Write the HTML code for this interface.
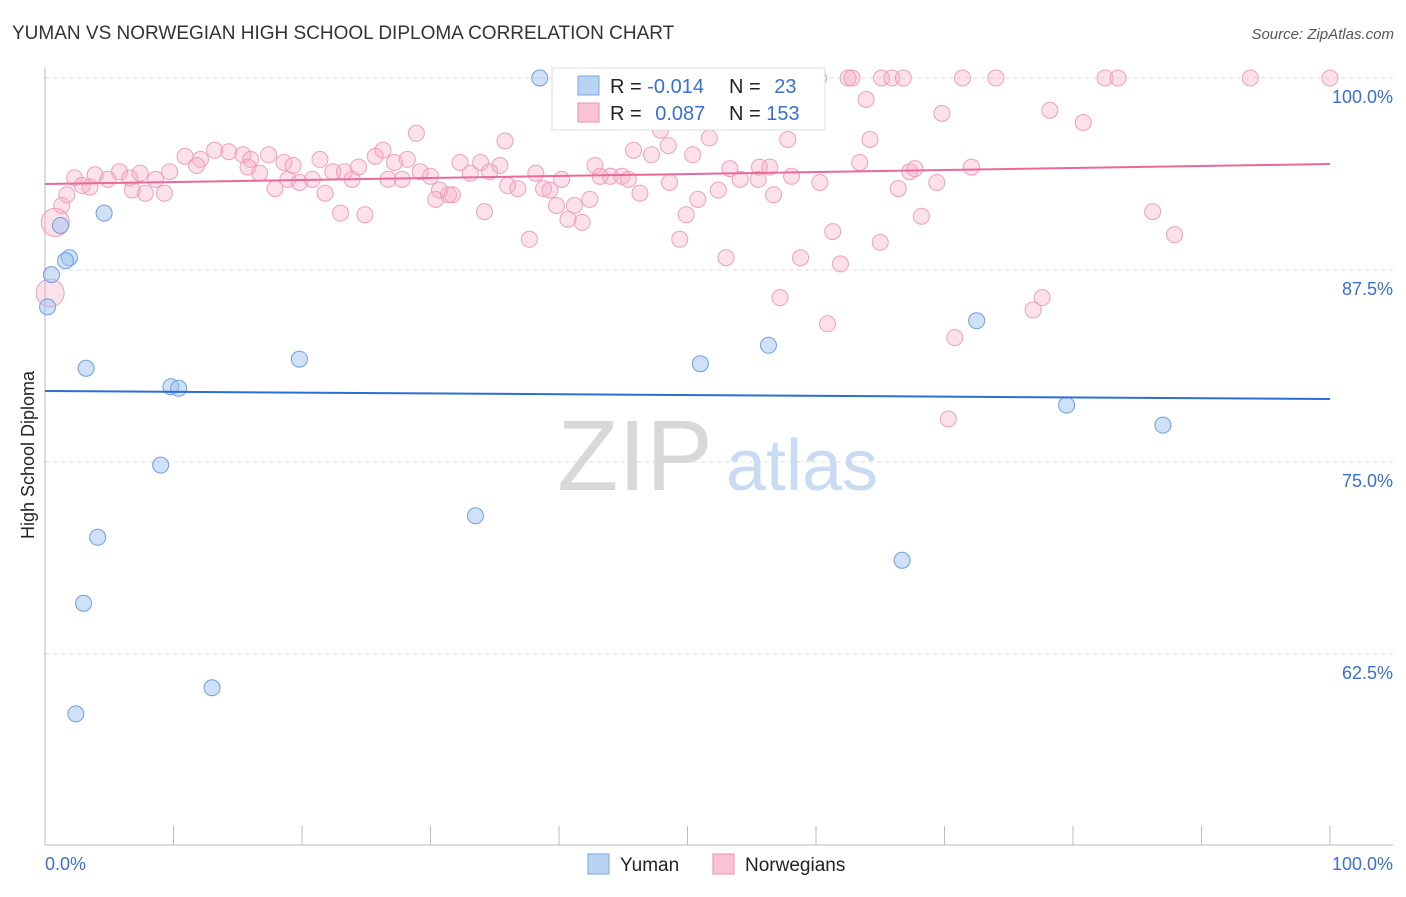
<!DOCTYPE html>
<html><head><meta charset="utf-8"><style>
body{margin:0;background:#fff;font-family:"Liberation Sans",sans-serif;}
svg text{font-family:"Liberation Sans",sans-serif;}
</style></head><body>
<svg width="1406" height="892" viewBox="0 0 1406 892" xmlns="http://www.w3.org/2000/svg">
<text x="12" y="39" font-size="19" fill="#333">YUMAN VS NORWEGIAN HIGH SCHOOL DIPLOMA CORRELATION CHART</text>
<text x="1394" y="39" font-size="15" fill="#555" font-style="italic" text-anchor="end">Source: ZipAtlas.com</text>
<g id="grid"></g>
<g id="axes"></g>
<g>
<text x="635" y="490" font-size="100" fill="#d8d8d8" font-family="Liberation Serif,serif" text-anchor="middle">ZIP</text>
<text x="802" y="490" font-size="72" fill="#c9dbf2" text-anchor="middle">atlas</text>
</g>
<g id="pts"></g>
<g id="lines"></g>
<g>
<rect x="552" y="68" width="273" height="62" fill="#fff" stroke="#ddd"/>
<rect x="578" y="76" width="21" height="19" fill="#b9d3f5" stroke="#7aa7e6"/>
<rect x="578" y="103" width="21" height="19" fill="#f9c3d4" stroke="#ee90ad"/>
<text x="610" y="93" font-size="20" fill="#222">R = <tspan fill="#3a6fd0">-0.014</tspan></text>
<text x="729" y="93" font-size="20" fill="#222">N = <tspan fill="#3a6fd0" dx="8">23</tspan></text>
<text x="610" y="120" font-size="20" fill="#222">R = <tspan fill="#3a6fd0" dx="8">0.087</tspan></text>
<text x="729" y="120" font-size="20" fill="#222">N = <tspan fill="#3a6fd0">153</tspan></text>
</g>
<g>
<rect x="588" y="854" width="21" height="20" fill="#b9d3f5" stroke="#7aa7e6"/>
<text x="620" y="871" font-size="19" fill="#222">Yuman</text>
<rect x="713" y="854" width="21" height="20" fill="#f9c3d4" stroke="#ee90ad"/>
<text x="745" y="871" font-size="19" fill="#222">Norwegians</text>
</g>
<text x="34" y="455" font-size="18" fill="#222" text-anchor="middle" transform="rotate(-90 34 455)">High School Diploma</text>
<text x="45" y="870" font-size="18" fill="#3a6fd0">0.0%</text>
<text x="1393" y="870" font-size="18" fill="#3a6fd0" text-anchor="end">100.0%</text>
</svg>
<script>
const yTicks=[100,87.5,75,62.5];
const yTickLabels=["100.0%","87.5%","75.0%","62.5%"];
const yumanX=[38.5,4.6,1.2,1.9,1.6,0.5,0.2,3.2,9.8,10.4,19.8,9.0,4.1,3.0,13.0,2.4,33.5,51.0,56.3,72.5,79.5,87.0,66.7];
const yumanY=[100,91.2,90.4,88.3,88.1,87.2,85.1,81.1,79.9,79.8,81.7,74.8,70.1,65.8,60.3,58.6,71.5,81.4,82.6,84.2,78.7,77.4,68.6];
const norX=[54.7,60.2,62.5,62.8,65.1,65.9,66.8,71.4,74.0,82.5,83.5,93.8,100,63.9,69.8,78.2,80.8,51.6,47.9,28.9,35.8,51.7,57.8,64.2,45.8,48.5,13.2,10.9,14.3,15.4,17.4,26.3,25.7,50.4,47.2,12.1,16.0,18.6,21.4,28.2,32.3,33.9,35.4,42.8,63.4,72.1,5.8,9.7,11.8,15.8,19.3,22.4,23.3,24.4,27.2,29.2,30.0,33.1,34.6,38.2,43.2,44.0,44.9,53.3,55.6,56.4,58.1,67.3,67.7,2.3,3.9,4.9,6.6,7.4,8.6,16.7,18.9,19.8,20.8,23.9,26.7,27.8,40.2,45.4,48.6,54.1,55.5,60.3,2.9,3.5,6.8,7.8,9.3,17.9,21.8,30.7,31.7,36.0,36.8,38.8,39.3,46.3,52.4,56.7,66.4,69.4,1.7,1.3,30.4,31.4,39.8,41.2,42.4,50.8,23.0,24.9,34.2,40.7,41.8,49.9,68.2,86.2,0.8,61.3,87.9,37.7,49.4,65.0,53.0,58.8,61.9,57.2,77.6,76.9,60.9,70.8,70.3,0.4];
const norY=[100,100,100,100,100,100,100,100,100,100,100,100,100,98.6,97.7,97.9,97.1,97.1,96.6,96.4,95.9,96.1,96.0,96.0,95.3,95.6,95.3,94.9,95.2,95.0,95.0,95.3,94.9,95.0,95.0,94.7,94.7,94.5,94.7,94.7,94.5,94.5,94.3,94.3,94.5,94.2,93.9,93.9,94.3,94.2,94.3,93.9,93.9,94.2,94.5,93.9,93.6,93.8,93.9,93.8,93.6,93.6,93.6,94.1,94.2,94.2,93.6,93.9,94.1,93.5,93.7,93.4,93.5,93.8,93.4,93.8,93.4,93.2,93.4,93.4,93.4,93.4,93.4,93.4,93.2,93.4,93.4,93.2,93.0,92.9,92.7,92.5,92.5,92.8,92.5,92.7,92.4,93.0,92.8,92.8,92.7,92.5,92.7,92.4,92.8,93.2,92.4,91.7,92.1,92.4,91.7,91.7,92.1,92.1,91.2,91.1,91.3,90.8,90.6,91.1,91.0,91.3,90.6,90.0,89.8,89.5,89.5,89.3,88.3,88.3,87.9,85.7,85.7,84.9,84.0,83.1,77.8,86.0];
const norBig=[norX.indexOf(0.8),norX.length-1];
const yumanTrend=[79.62,79.1];
const norTrend=[93.1,94.4];
const X=v=>45+v/100*1285;
const Y=v=>78+(100-v)*15.36;
const NS="http://www.w3.org/2000/svg";
function mk(tag,attrs,parent){const e=document.createElementNS(NS,tag);for(const k in attrs)e.setAttribute(k,attrs[k]);parent.appendChild(e);return e;}
const grid=document.getElementById('grid');
yTicks.forEach((t,i)=>{
 const l=mk('line',{x1:45,x2:1393,y1:Y(t),y2:Y(t),stroke:'#ddd','stroke-dasharray':'4,4'},grid);
 
 
 const tx=mk('text',{x:1393,y:Y(t)+25,'font-size':18,fill:'#3a6fd0','text-anchor':'end'},grid);
 tx.textContent=yTickLabels[i];
 
 
});
const axes=document.getElementById('axes');
mk('line',{x1:45,x2:45,y1:68,y2:845,stroke:'#bbb'},axes);
mk('line',{x1:45,x2:1393,y1:845,y2:845,stroke:'#bbb'},axes);
for(let i=0;i<=10;i++){const t=mk('line',{x1:X(i*10),x2:X(i*10),y1:826,y2:845,stroke:'#bbb'},axes);
 
 }
const pts=document.getElementById('pts');
norX.forEach((x,i)=>{
 const c=mk('circle',{cx:X(x),cy:Y(norY[i]),r:norBig.includes(i)?14:8,fill:'rgba(247,170,195,0.35)',stroke:'#efa0b9','stroke-width':1},pts);
 
 
});
yumanX.forEach((x,i)=>{
 const c=mk('circle',{cx:X(x),cy:Y(yumanY[i]),r:8,fill:'rgba(160,196,240,0.5)',stroke:'#6f9ee0','stroke-width':1},pts);
 
 
});
const lines=document.getElementById('lines');
const lb=mk('line',{x1:X(0),x2:X(100),y1:Y(yumanTrend[0]),y2:Y(yumanTrend[1]),stroke:'#2a6fd6','stroke-width':2},lines);


const lp=mk('line',{x1:X(0),x2:X(100),y1:Y(norTrend[0]),y2:Y(norTrend[1]),stroke:'#e8699a','stroke-width':2},lines);


</script>
</body></html>
